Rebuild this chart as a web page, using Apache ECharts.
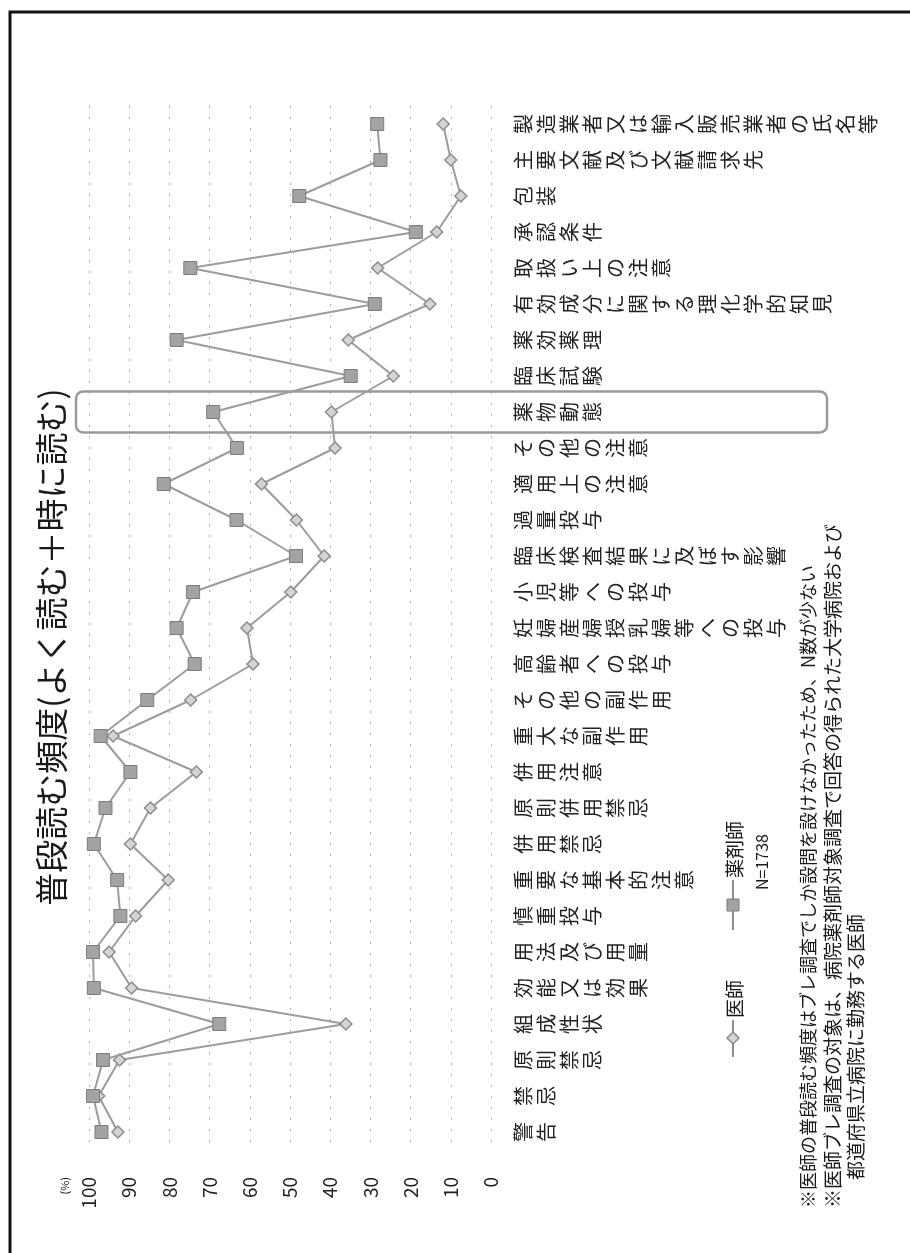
<!DOCTYPE html>
<html><head><meta charset="utf-8">
<script src="https://cdn.jsdelivr.net/npm/echarts@6/dist/echarts.min.js"></script>
<style>html,body{margin:0;padding:0;background:#fff}#c{width:910px;height:1253px}</style>
</head><body><div id="c"></div>
<script>
const categories = ['警告','禁忌','原則禁忌','組成性状','効能又は効果','用法及び用量','慎重投与','重要な基本的注意','併用禁忌','原則併用禁忌','併用注意','重大な副作用','その他の副作用','高齢者への投与','妊婦産婦授乳婦等への投与','小児等への投与','臨床検査結果に及ぼす影響','過量投与','適用上の注意','その他の注意','薬物動態','臨床試験','薬効薬理','有効成分に関する理化学的知見','取扱い上の注意','承認条件','包装','主要文献及び文献請求先','製造業者又は輸入販売業者の氏名等'];
const pharmacist = [96.9, 99.0, 96.5, 67.6, 98.8, 99.0, 92.2, 93.0, 98.8, 95.9, 89.7, 97.1, 85.5, 73.7, 78.2, 74.1, 48.5, 63.3, 81.4, 63.2, 69.1, 34.9, 78.2, 28.9, 74.8, 18.7, 47.7, 27.5, 28.3];
const doctor = [92.8, 97.6, 92.4, 36.1, 89.4, 95.0, 88.4, 80.3, 89.7, 84.7, 73.3, 94.0, 74.7, 59.2, 60.7, 49.8, 41.5, 48.4, 57.1, 38.8, 39.7, 24.3, 35.5, 15.2, 28.2, 13.5, 7.5, 10.0, 11.9];
const seriesNames = ['医師', '薬剤師'];
const titleText = '普段読む頻度(よく読む＋時に読む)';
const unitText = '(%)';
const sampleText = 'N=1738';
const highlightCategory = '薬物動態';
const footnotes = [
  '※医師の普段読む頻度はブレ調査でしか設問を設けなかったため、N数が少ない',
  '※医師ブレ調査の対象は、病院薬剤師対象調査で回答の得られた大学病院および',
  '都道府県立病院に勤務する医師'
];

const FONT = '"Noto Sans CJK JP", "Noto Sans", sans-serif';
const chart = echarts.init(document.getElementById('c'), null, {renderer: 'canvas'});
const option = {
  animation: false,
  backgroundColor: '#fff',
  grid: {left: 89, right: 419, top: 106, bottom: 103, containLabel: false},
  xAxis: {
    type: 'value', inverse: true, min: 0, max: 100, interval: 10,
    axisLine: {show: false}, axisTick: {show: false},
    axisLabel: {rotate: 90, margin: 27, fontSize: 19, color: '#222', fontFamily: FONT},
    splitLine: {show: true, lineStyle: {color: '#b0b0b0', width: 1, type: [2, 9]}}
  },
  yAxis: {
    type: 'category', data: categories, position: 'right', boundaryGap: true,
    axisLine: {show: false}, axisTick: {show: false}, splitLine: {show: false},
    axisLabel: {
      interval: 0, rotate: 90, margin: 21, fontSize: 20, lineHeight: 23,
      color: '#222', fontFamily: FONT, hideOverlap: false,
      formatter: v => v.split('').join('\n')
    }
  },
  series: [
    {name: seriesNames[0], type: 'line', data: doctor, symbol: 'diamond', symbolSize: 12,
     lineStyle: {color: '#9c9c9c', width: 2}, itemStyle: {color: '#d4d4d4', borderColor: '#8c8c8c', borderWidth: 1.5}, z: 3},
    {name: seriesNames[1], type: 'line', data: pharmacist, symbol: 'rect', symbolSize: 13,
     lineStyle: {color: '#9c9c9c', width: 2}, itemStyle: {color: '#a3a3a3', borderColor: '#7c7c7c', borderWidth: 1}, z: 4}
  ]
};
chart.setOption(option);

const hy = chart.convertToPixel({yAxisIndex: 0}, highlightCategory);
const vtext = (x, y, text, size, align, extra) => Object.assign({
  type: 'text', x: x, y: y, rotation: Math.PI / 2, z: 10,
  style: {text: text, font: size + 'px ' + FONT, fill: '#1a1a1a', align: align, verticalAlign: 'middle'}
}, extra || {});
const graphics = [
  {type: 'rect', shape: {x: 10, y: 12, width: 930, height: 1280}, style: {fill: 'none', stroke: '#111', lineWidth: 3}, z: 1},
  {type: 'rect', shape: {x: 76, y: hy - 20.5, width: 751, height: 41, r: 7}, style: {fill: 'none', stroke: '#9a9a9a', lineWidth: 2.5}, z: 2},
  vtext(51, 647, titleText, 33, 'center'),
  vtext(65, 1177, unitText, 11, 'right'),
  // legend: 医師
  {type: 'line', shape: {x1: 733, y1: 1020, x2: 733, y2: 1057}, style: {stroke: '#8c8c8c', lineWidth: 2}, z: 10},
  {type: 'polygon', shape: {points: [[733, 1032], [739, 1038], [733, 1044], [727, 1038]]}, style: {fill: '#d4d4d4', stroke: '#8c8c8c', lineWidth: 1.5}, z: 11},
  vtext(735, 1018, seriesNames[0], 19, 'left'),
  // legend: 薬剤師
  {type: 'line', shape: {x1: 733, y1: 880, x2: 733, y2: 930}, style: {stroke: '#8c8c8c', lineWidth: 2}, z: 10},
  {type: 'rect', shape: {x: 727, y: 899, width: 12, height: 12}, style: {fill: '#a3a3a3', stroke: '#7c7c7c', lineWidth: 1}, z: 11},
  vtext(735, 878, seriesNames[1], 19, 'left'),
  vtext(762, 890, sampleText, 16, 'left'),
  vtext(808, 1208, footnotes[0], 18, 'left'),
  vtext(833, 1208, footnotes[1], 19, 'left'),
  vtext(856, 1180, footnotes[2], 19, 'left')
];
chart.setOption({graphic: graphics});
</script></body></html>
